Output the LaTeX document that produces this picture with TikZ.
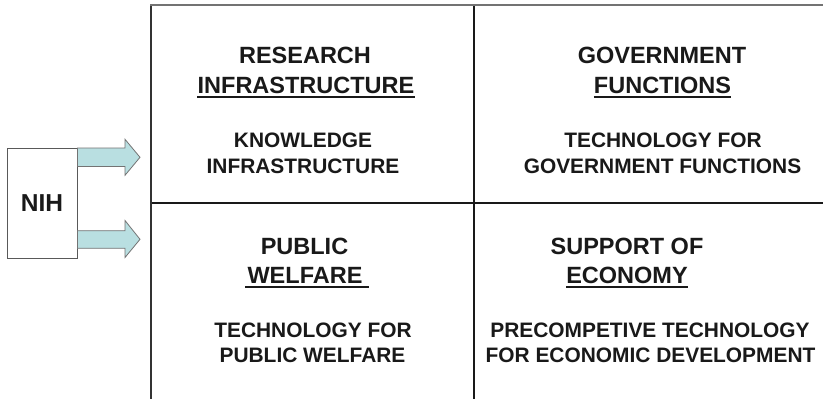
\documentclass[tikz,border=0pt]{standalone}
\usepackage{fontspec}
\setmainfont{Liberation Sans}
\begin{document}
\begin{tikzpicture}[x=1pt,y=-1pt,
  title/.style={inner sep=0pt,anchor=base,font=\bfseries\fontsize{23.5}{28}\selectfont,text=black!90},
  sub/.style={inner sep=0pt,anchor=base,font=\bfseries\fontsize{20.9}{25}\selectfont,text=black!90},
  ul/.style={line width=2.2pt,black!90},
  grid/.style={line width=2pt,black!90},
  blockarrow/.style={fill=arrowfill,draw=black!55,line width=0.8pt,line join=miter},
  nihbox/.style={draw=black!65,line width=0.9pt,fill=white,minimum width=70pt,minimum height=110pt,inner sep=0pt,font=\bfseries\fontsize{24.5}{28}\selectfont,text=black!90}]
\definecolor{arrowfill}{HTML}{B9DFE1}
\useasboundingbox (0,0) rectangle (823,399);
\fill[white] (0,0) rectangle (823,399);
% grid
\coordinate (tl) at (151,5);
\coordinate (tr) at (823,5);
\coordinate (bl) at (151,399);
\coordinate (tm) at (474,5);
\coordinate (bm) at (474,399);
\coordinate (ml) at (151,203);
\coordinate (mr) at (823,203);
\draw[grid] (tm) -- (bm);
\draw[grid] (ml) -- (mr);
\draw[line width=1.5pt,black!80] (tl) -- (bl);
\draw[line width=1.6pt,black!55] ([xshift=-0.75pt]tl) -- (tr);
% NIH
\node[nihbox] (nih) at (42,203) {NIH};
% arrows
\coordinate (t1) at (140,157.3);
\coordinate (t2) at (140,239.3);
\draw[blockarrow] (nih.east |- 0,148) -- (125,148) -- (125,139.3) -- (t1) -- (125,175.3) -- (125,166.5) -- (nih.east |- 0,166.5) -- cycle;
\draw[blockarrow] (nih.east |- 0,230.7) -- (125,230.7) -- (125,220.5) -- (t2) -- (125,257.5) -- (125,248.3) -- (nih.east |- 0,248.3) -- cycle;
% top left
\node[title] (rl1) at (305,63) {RESEARCH};
\node[title] (rl2) at (306,93) {INFRASTRUCTURE};
\draw[ul] ([yshift=-4pt]rl2.base west) -- ([yshift=-4pt]rl2.base east);
\node[sub] (rs1) at (303,147) {KNOWLEDGE};
\node[sub] (rs2) at (303,173) {INFRASTRUCTURE};
% top right
\node[title] (gl1) at (662,63) {GOVERNMENT};
\node[title] (gl2) at (662.5,93) {FUNCTIONS};
\draw[ul] ([yshift=-4pt]gl2.base west) -- ([yshift=-4pt]gl2.base east);
\node[sub] (gs1) at (663,147) {TECHNOLOGY FOR};
\node[sub] (gs2) at (662.5,173) {GOVERNMENT FUNCTIONS};
% bottom left
\node[title] (pl1) at (304.5,254) {PUBLIC};
\node[title] (pl2) at (305,283) {WELFARE};
\draw[ul] ([yshift=-4pt,xshift=-2pt]pl2.base west) -- ([yshift=-4pt,xshift=6.5pt]pl2.base east);
\node[sub] (ps1) at (313,337) {TECHNOLOGY FOR};
\node[sub] (ps2) at (312.5,362) {PUBLIC WELFARE};
% bottom right
\node[title] (el1) at (627,254) {SUPPORT OF};
\node[title] (el2) at (627,283) {ECONOMY};
\draw[ul] ([yshift=-4pt]el2.base west) -- ([yshift=-4pt]el2.base east);
\node[sub] (es1) at (650,337) {PRECOMPETIVE TECHNOLOGY};
\node[sub] (es2) at (650.5,362) {FOR ECONOMIC DEVELOPMENT};
\end{tikzpicture}
\end{document}
